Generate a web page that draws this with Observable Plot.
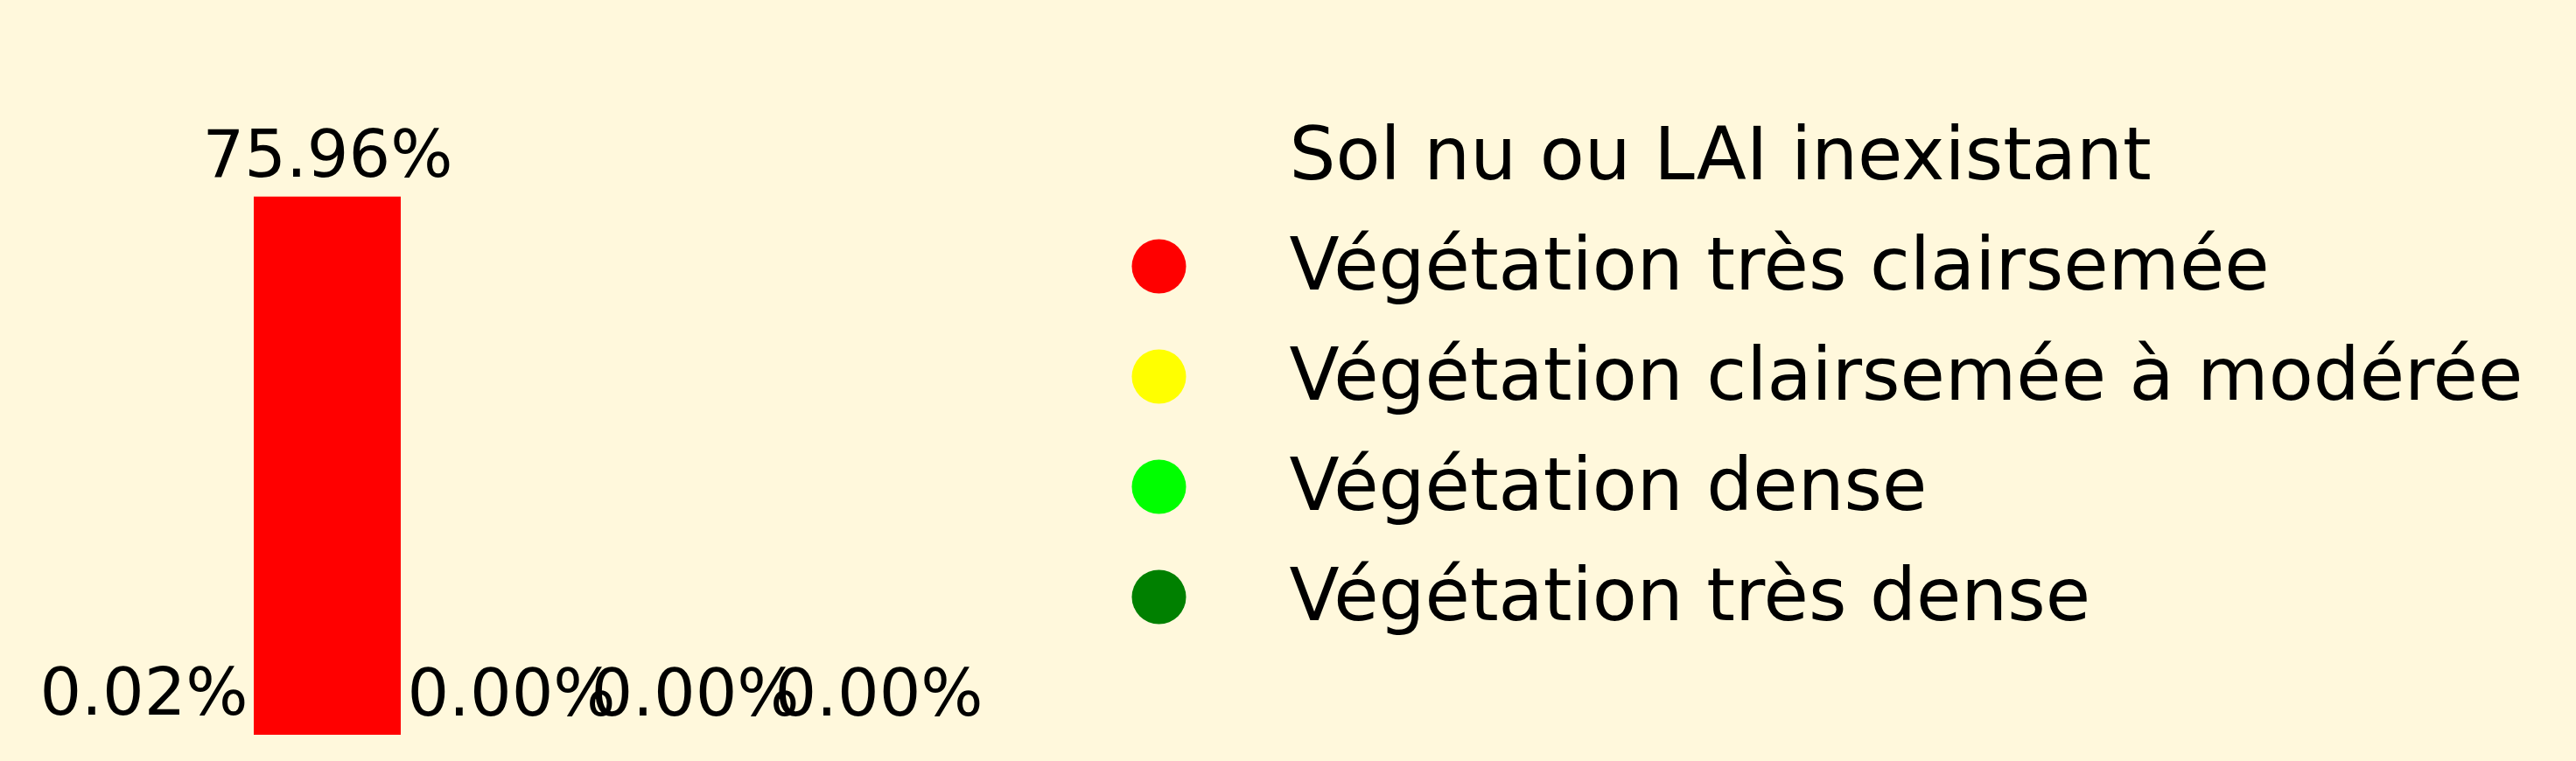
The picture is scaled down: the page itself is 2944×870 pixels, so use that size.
<!DOCTYPE html>
<html>
<head>
<meta charset="utf-8">
<script src="https://cdn.jsdelivr.net/npm/d3@7"></script>
<script src="https://cdn.jsdelivr.net/npm/@observablehq/plot@0.6"></script>
<style>
  html, body { margin: 0; padding: 0; background: #fff8dc; }
  #wrap { display: flex; flex-direction: row; width: 2944px; height: 870px; background: #fff8dc; }
  svg { display: block; }
</style>
</head>
<body>
<div id="wrap"></div>
<script>
const categories = [
  "Sol nu ou LAI inexistant",
  "Végétation très clairsemée",
  "Végétation clairsemée à modérée",
  "Végétation dense",
  "Végétation très dense"
];
const values = [0.02, 75.96, 0.00, 0.00, 0.00];
const colors = ["transparent", "#ff0000", "#ffff00", "#00ff00", "#008000"];
const valueLabels = values.map(v => v.toFixed(2) + "%");

const data = categories.map((c, i) => ({cat: c, value: values[i], label: valueLabels[i]}));

const font = "DejaVu Sans, sans-serif";

const chart = Plot.plot({
  width: 1240,
  height: 870,
  marginLeft: 59,
  marginRight: 131,
  marginTop: 192,
  marginBottom: 30,
  style: {background: "transparent", fontFamily: font},
  x: {type: "band", domain: categories, paddingInner: 0.2, paddingOuter: 0.1, axis: null},
  y: {domain: [0, 80], axis: null},
  color: {type: "ordinal", domain: categories, range: colors},
  marks: [
    Plot.barY(data, {x: "cat", y: "value", fill: "cat"}),
    Plot.text(data, {
      x: "cat", y: "value", text: "label",
      lineAnchor: "bottom", dy: -23,
      fontSize: 75, fill: "black", fontFamily: font
    })
  ]
});

const legend = Plot.plot({
  width: 1704,
  height: 870,
  marginLeft: 84,
  marginRight: 0,
  marginTop: 177,
  marginBottom: 188,
  style: {background: "transparent", fontFamily: font},
  x: {axis: null},
  y: {type: "point", domain: categories, padding: 0, axis: null},
  color: {type: "ordinal", domain: categories, range: colors},
  marks: [
    Plot.dot(categories, {y: d => d, frameAnchor: "left", r: 31, fill: d => d, stroke: null}),
    Plot.text(categories, {
      y: d => d, text: d => d, frameAnchor: "left", dx: 149,
      textAnchor: "start", lineAnchor: "middle",
      fontSize: 83.5, fill: "black", fontFamily: font
    })
  ]
});

const wrap = document.getElementById("wrap");
wrap.appendChild(chart);
wrap.appendChild(legend);
</script>
</body>
</html>
